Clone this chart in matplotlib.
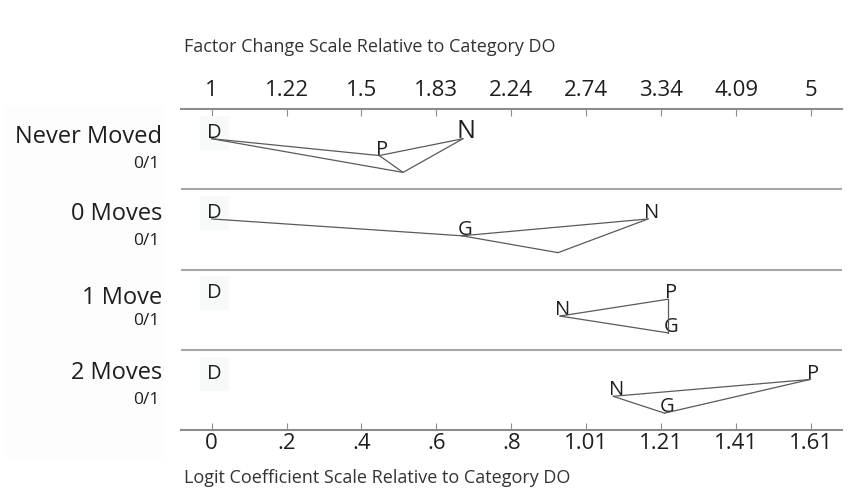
import numpy as np
import matplotlib
matplotlib.use("Agg")
import matplotlib.pyplot as plt
from matplotlib.patches import Rectangle

plt.rcParams["font.family"] = ["Open Sans", "DejaVu Sans"]

# ---- data -------------------------------------------------------------
rows = ["Never Moved", "0 Moves", "1 Move", "2 Moves"]
row_counts = ["0/1", "0/1", "0/1", "0/1"]

letters = ["D", "G", "N", "P"]
# logit coefficients relative to DO, one list per row (order: D, G, N, P)
coef_never = [0.0, 0.514, 0.675, 0.450]
coef_zero = [0.0, 0.672, 1.172, 0.930]
coef_one = [0.0, 1.226, 0.935, 1.226]
coef_two = [0.0, 1.216, 1.078, 1.607]
coefs = [coef_never, coef_zero, coef_one, coef_two]

# stacking level of each letter inside its row
level_never = [0, 2, 0, 1]
level_zero = [0, 1, 0, 2]
level_one = [0, 2, 1, 0]
level_two = [0, 2, 1, 0]
levels = [level_never, level_zero, level_one, level_two]

# which letters carry a label
shown_never = [1, 0, 1, 1]
shown_zero = [1, 1, 1, 0]
shown_one = [1, 1, 1, 1]
shown_two = [1, 1, 1, 1]
shown = [shown_never, shown_zero, shown_one, shown_two]

# connected pairs
links_never = [("D", "P"), ("D", "G"), ("P", "N"), ("P", "G"), ("G", "N")]
links_zero = [("D", "G"), ("G", "P"), ("G", "N"), ("N", "P")]
links_one = [("N", "P"), ("P", "G"), ("G", "N")]
links_two = [("N", "P"), ("N", "G"), ("G", "P")]
links = [links_never, links_zero, links_one, links_two]

logit_ticks = np.linspace(0, np.log(5), 9)
logit_labels = ["0", ".2", ".4", ".6", ".8", "1.01", "1.21", "1.41", "1.61"]
factor_labels = ["1", "1.22", "1.5", "1.83", "2.24", "2.74", "3.34", "4.09", "5"]

# ---- layout -----------------------------------------------------------
W, H = 858, 495
fig = plt.figure(figsize=(W / 100, H / 100), dpi=100)

# very faint label-box background on the left
fig.patches.append(Rectangle((5 / W, 1 - 458 / H), 160 / W, 352 / H,
                             transform=fig.transFigure, fc="#fdfdfd", ec="none",
                             zorder=0))

x0, x1, y0, y1 = 181, 842, 109, 430
ax = fig.add_axes([x0 / W, 1 - y1 / H, (x1 - x0) / W, (y1 - y0) / H])
ax.patch.set_alpha(0)
ax.set_xlim((x0 - 211.6) / 372.5, (x1 - 211.6) / 372.5)
ax.set_ylim(4, 0)

level_y = [0.37, 0.58, 0.79]
line_col = "#5a5a5a"
axis_col = "#8c8c8c"
text_col = "#1e1e1e"

for i in range(4):
    xs = dict(zip(letters, coefs[i]))
    ys = {k: i + level_y[lv] for k, lv in zip(letters, levels[i])}
    for a, b in links[i]:
        ax.plot([xs[a], xs[b]], [ys[a], ys[b]], color=line_col, lw=0.9,
                solid_capstyle="round", zorder=3)
    for k, s in zip(letters, shown[i]):
        if not s:
            continue
        size = 18 if (i == 0 and k == "N") else 14.5
        kw = {}
        if k == "D":
            kw["bbox"] = dict(boxstyle="square,pad=0.35", fc="#f8f9f9", ec="none")
        ax.text(xs[k] + 0.008, ys[k] - 0.01, k, ha="center", va="baseline",
                fontsize=size, color=text_col, zorder=2, **kw)

label_y = [137, 214, 298, 373]
count_y = [164, 241, 321, 400]
for i in range(4):
    fig.text(162 / W, 1 - label_y[i] / H, rows[i], ha="right", va="center",
             fontsize=17, color=text_col)
    fig.text(159 / W, 1 - count_y[i] / H, row_counts[i], ha="right",
             va="center", fontsize=12.5, color=text_col)

for yy in [1, 2, 3]:
    ax.axhline(yy, color="#a8a8a8", lw=1.5)

for side in ["left", "right", "top"]:
    ax.spines[side].set_visible(False)
ax.spines["bottom"].set_color(axis_col)
ax.spines["bottom"].set_linewidth(1.5)
ax.set_yticks([])
ax.set_xticks(logit_ticks)
ax.set_xticklabels(logit_labels, fontsize=16, color=text_col)
ax.tick_params(axis="x", direction="in", length=5, color=axis_col, pad=2)

top = ax.secondary_xaxis("top", functions=(np.exp, np.log))
top.set_xticks(np.exp(logit_ticks))
top.set_xticklabels(factor_labels, fontsize=16, color=text_col)
top.tick_params(axis="x", direction="in", length=5, color=axis_col, pad=6)
top.spines["top"].set_color(axis_col)
top.spines["top"].set_linewidth(1.5)

fig.text(184 / W, 1 - 47 / H, "Factor Change Scale Relative to Category DO",
         ha="left", va="center", fontsize=13, color="#333333")
fig.text(184 / W, 1 - 478 / H, "Logit Coefficient Scale Relative to Category DO",
         ha="left", va="center", fontsize=13, color="#333333")

fig.savefig("out.png", dpi=100)
